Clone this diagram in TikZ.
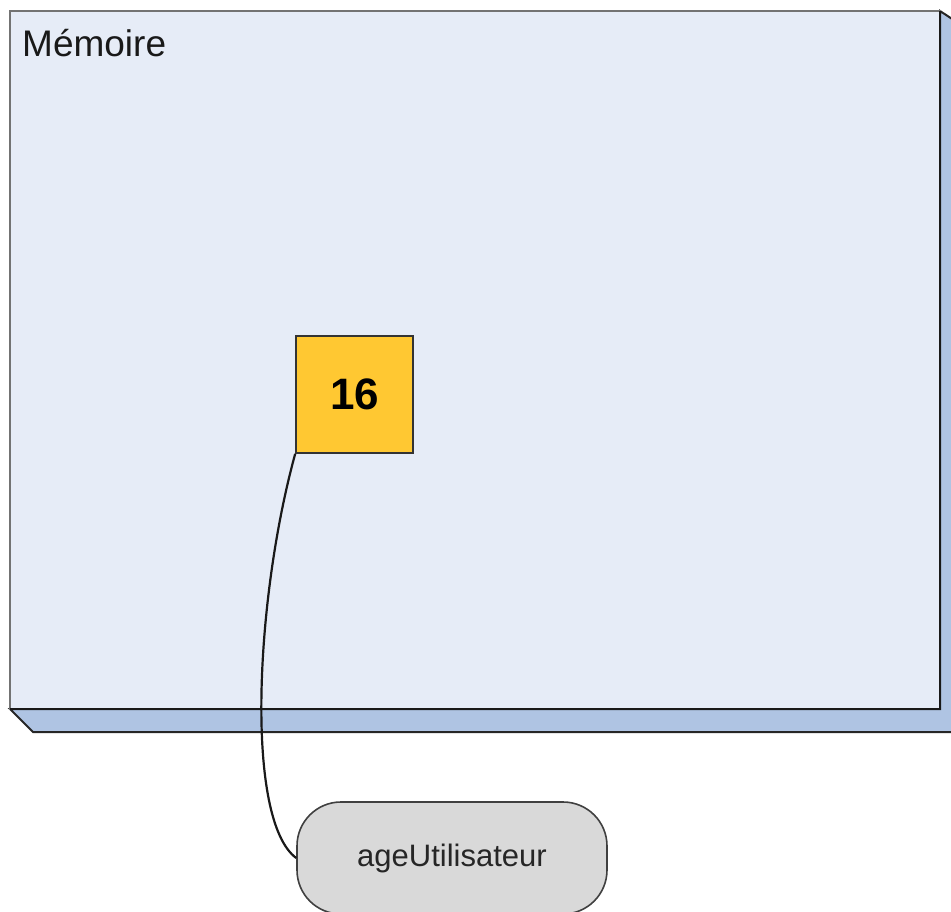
\documentclass[tikz,border=0pt]{standalone}
\usepackage{fontspec}
\setmainfont{Liberation Sans}
\begin{document}
\begin{tikzpicture}[x=1pt,y=-1pt,
  front/.style={fill=memfront,draw=black!55,line width=2.5pt},
  side/.style={fill=memside,draw=black!85,line width=2pt,line join=miter},
  valbox/.style={draw=black!80,line width=1.6pt,fill=valfill,minimum width=117pt,minimum height=117pt,inner sep=0pt,font=\bfseries\fontsize{44}{50}\selectfont},
  varbox/.style={draw=black!75,line width=1.6pt,fill=varfill,rounded corners=44pt,minimum width=310pt,minimum height=112pt,inner sep=0pt,text=black!85,font=\fontsize{31}{36}\selectfont},
  link/.style={draw=black!90,line width=2.2pt}
]
\definecolor{memfront}{HTML}{E6ECF7}
\definecolor{memside}{HTML}{AFC4E3}
\definecolor{valfill}{HTML}{FFC832}
\definecolor{varfill}{HTML}{D9D9D9}
\useasboundingbox (0,0) rectangle (951,912);
\clip (0,0) rectangle (951,912);
% 3D memory block
\draw[side] (10,709) -- (33,732) -- (975,732) -- (975,34) -- (940,11) -- (940,709) -- cycle;
\draw[side] (10,709) -- (940,709);
\draw[front] (10,11) rectangle (940,709);
\draw[black!90,line width=2.2pt] (10,709) -- (940,709) -- (940,11);
\node[anchor=base west,inner sep=0pt,text=black!90,font=\fontsize{37}{42}\selectfont] (mem) at (22,57) {Mémoire};
% value cell
\node[valbox] (val) at (354.5,394.5) {16};
% variable name
\node[varbox] (var) at (452,858) {ageUtilisateur};
\draw[link] (val.south west) .. controls (255,600) and (245,820) .. (var.west);
\end{tikzpicture}
\end{document}
